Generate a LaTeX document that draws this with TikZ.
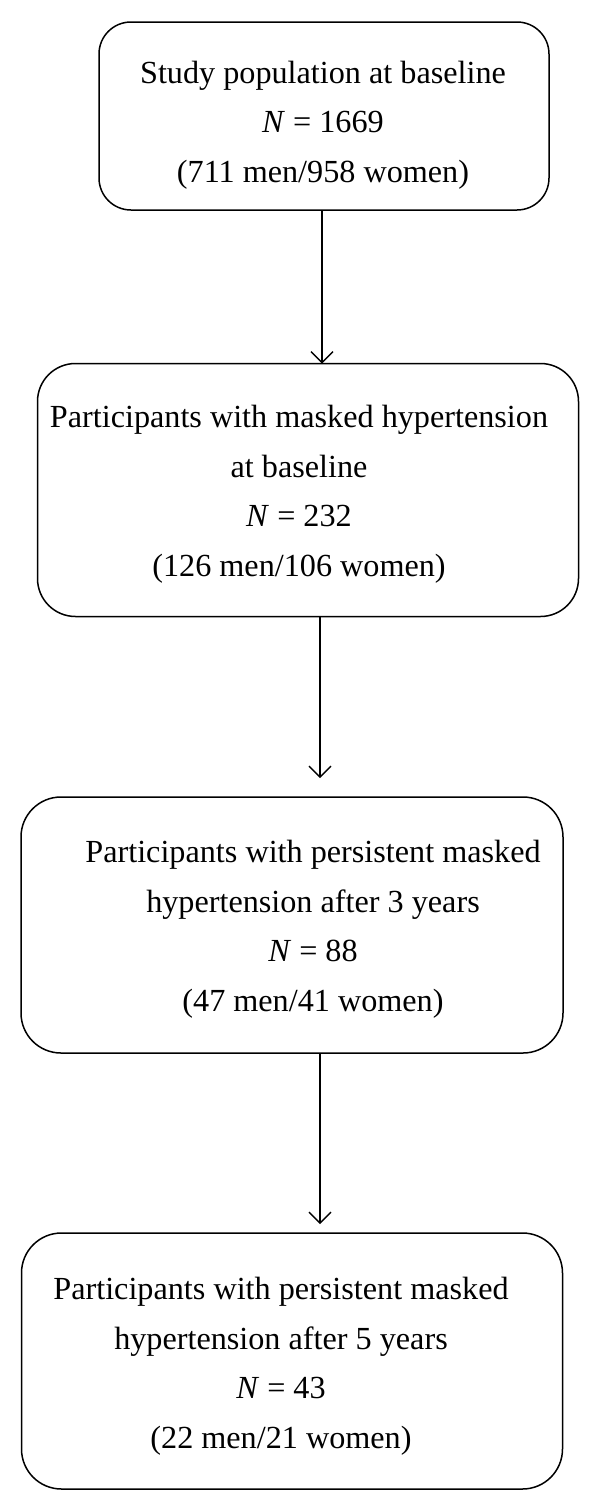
\documentclass[tikz,border=0pt]{standalone}
\usepackage{fontspec}
\setmainfont{Liberation Serif}
\usetikzlibrary{arrows.meta}
\begin{document}
\begin{tikzpicture}[x=1pt,y=-1pt,
  flowbox/.style={draw, line width=1.5pt, inner sep=0pt, outer sep=0pt},
  txt/.style={align=center, inner sep=0pt, font=\fontsize{32.2}{49.5}\selectfont},
  arr/.style={line width=1.4pt, -{Straight Barb[length=11pt,width=22pt,line width=1.4pt]}}]
\useasboundingbox (0,0) rectangle (600,1510);
% boxes
\node[flowbox, rounded corners=32pt, minimum width=450pt, minimum height=188pt] (b1) at (324,116) {};
\node[flowbox, rounded corners=38pt, minimum width=541pt, minimum height=253pt] (b2) at (308,490) {};
\node[flowbox, rounded corners=40pt, minimum width=542pt, minimum height=256pt] (b3) at (292,925) {};
\node[flowbox, rounded corners=40pt, minimum width=541pt, minimum height=256pt] (b4) at (292,1361) {};
% texts
\node[txt] (t1) at (323,125) {Study population at baseline\\\textit{N} = 1669\\(711 men/958 women)};
\node[txt] (t2) at (299,494) {Participants with masked hypertension\\at baseline\\\textit{N} = 232\\(126 men/106 women)};
\node[txt] (t3) at (313,929) {Participants with persistent masked\\hypertension after 3 years\\\textit{N} = 88\\(47 men/41 women)};
\node[txt] (t4) at (281,1366) {Participants with persistent masked\\hypertension after 5 years\\\textit{N} = 43\\(22 men/21 women)};
% arrow ends
\coordinate (a1) at (322,363);
\coordinate (a2) at (320,778);
\coordinate (a3) at (320,1224);
\draw[arr] (b1.south -| a1) -- (b2.north -| a1);
\draw[arr] (b2.south -| a2) -- (a2);
\draw[arr] (b3.south -| a3) -- (a3);
\end{tikzpicture}
\end{document}
